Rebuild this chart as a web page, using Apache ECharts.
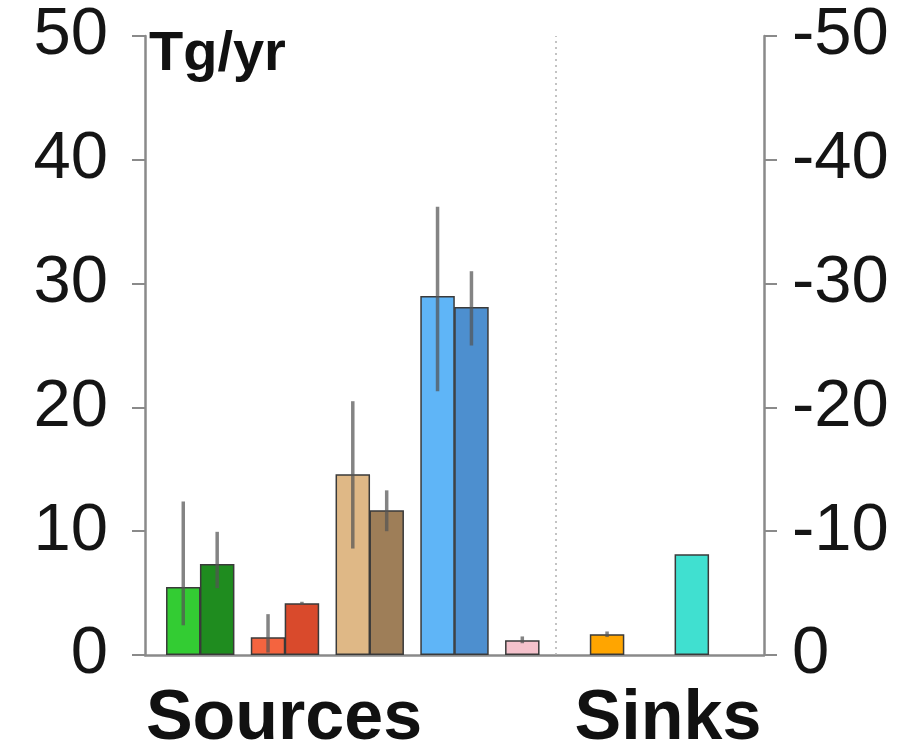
<!DOCTYPE html>
<html>
<head>
<meta charset="utf-8">
<script src="https://cdn.jsdelivr.net/npm/echarts@6/dist/echarts.min.js"></script>
<style>
html,body{margin:0;padding:0;background:#fff;}
#chart{width:912px;height:752px;}
</style>
</head>
<body>
<div id="chart"></div>
<script>
// Category slots (spacers keep the gaps between bar groups)
const categories = ['Src1a','_g1','Src1b','_g2','_g3','Src2a','_g4','Src2b','_g5','_g6',
  'Src3a','_g7','Src3b','_g8','_g9','Src4a','_g10','Src4b','_g11','_g12',
  'Src5','_g13','Divider','_g14','_g15','Sink1','_g16','_g17','_g18','_g19','Sink2'];
// Bar values (Tg/yr), aligned with categories
const barValues = [5.5,null,7.35,null,null,1.43,null,4.18,null,null,
  14.6,null,11.7,null,null,29.0,null,28.1,null,null,
  1.2,null,null,null,null,1.67,null,null,null,null,8.13];
// Error ranges per bar: low and high
const errLow  = {Src1a:2.4, Src1b:5.4, Src2a:0.2, Src2b:4.05, Src3a:8.6, Src3b:10.0, Src4a:21.3, Src4b:25.0, Src5:0.95, Sink1:1.45};
const errHigh = {Src1a:12.4, Src1b:9.95, Src2a:3.3, Src2b:4.3, Src3a:20.5, Src3b:13.3, Src4a:36.2, Src4b:31.0, Src5:1.5, Sink1:1.9};
const leftTicks = [0,10,20,30,40,50];
const rightTickLabels = ['0','-10','-20','-30','-40','-50'];
const groupLabels = ['Sources','Sinks'];
const unitLabel = 'Tg/yr';

const barColors = {Src1a:'#33cc33',Src1b:'#1f8c1f',Src2a:'#f4643f',Src2b:'#d94a2c',
  Src3a:'#dfb886',Src3b:'#9e7e58',Src4a:'#5fb5f7',Src4b:'#4d8fcf',Src5:'#f5c2cc',
  Sink1:'#ffa500',Sink2:'#40e0d0'};

const barData = barValues.map((v,i)=> v==null ? null : {value:v, itemStyle:{color:barColors[categories[i]]}});
const errData = categories.filter(c=>errLow[c]!=null).map(c=>[c, errLow[c], errHigh[c]]);

const axisGray = '#8a8a8a';
const font = "'Liberation Sans', Arial, sans-serif";
const chart = echarts.init(document.getElementById('chart'));
chart.setOption({
  animation:false,
  backgroundColor:'#fff',
  grid:[
    {left:145,right:148,top:36,bottom:97},
    {left:174.8,right:211.7,top:36,bottom:97}
  ],
  xAxis:[
    {gridIndex:0,type:'value',min:0,max:1,
     axisLine:{show:true,onZero:false,lineStyle:{color:axisGray,width:2.5}},
     axisTick:{show:false},axisLabel:{show:false},splitLine:{show:false}},
    {gridIndex:1,type:'category',data:categories,boundaryGap:true,show:false}
  ],
  yAxis:[
    {gridIndex:0,type:'value',min:0,max:50,interval:10,position:'left',
     axisLine:{show:true,onZero:false,lineStyle:{color:axisGray,width:2.5}},
     axisTick:{show:true,length:13,lineStyle:{color:axisGray,width:2}},
     axisLabel:{fontSize:67,color:'#151515',margin:37,fontFamily:font,
       formatter:(v)=>String(leftTicks[leftTicks.indexOf(v)])},
     splitLine:{show:false}},
    {gridIndex:0,type:'value',min:0,max:50,interval:10,position:'right',
     axisLine:{show:true,onZero:false,lineStyle:{color:axisGray,width:2.5}},
     axisTick:{show:true,length:13,lineStyle:{color:axisGray,width:2}},
     axisLabel:{fontSize:67,color:'#151515',margin:28,fontFamily:font,
       formatter:(v)=>rightTickLabels[leftTicks.indexOf(v)]},
     splitLine:{show:false}},
    {gridIndex:1,type:'value',min:0,max:50,show:false}
  ],
  series:[
    {type:'bar',xAxisIndex:1,yAxisIndex:2,data:barData,barWidth:34.5,clip:false,
     itemStyle:{borderColor:'#3a3a3a',borderWidth:1.5},
     markLine:{silent:true,symbol:'none',label:{show:false},
       lineStyle:{type:[2,4],color:'#b0b0b0',width:1.5},
       data:[{xAxis:'Divider'}]}},
    {type:'custom',xAxisIndex:1,yAxisIndex:2,data:errData,z:5,clip:false,
     encode:{x:0,y:[1,2]},
     renderItem:(params,api)=>{
       const lo = api.coord([api.value(0), api.value(1)]);
       const hi = api.coord([api.value(0), api.value(2)]);
       return {type:'line',shape:{x1:lo[0],y1:lo[1],x2:hi[0],y2:hi[1]},
         style:{stroke:'rgba(85,85,85,0.72)',lineWidth:3.5}};
     }}
  ],
  graphic:[
    {type:'text',left:149,top:27,style:{text:unitLabel,fontSize:56,fontWeight:'bold',fill:'#111',fontFamily:font}},
    {type:'text',x:284,y:720,style:{text:groupLabels[0],fontSize:70,fontWeight:'bold',fill:'#111',fontFamily:font,textAlign:'center',textVerticalAlign:'middle'}},
    {type:'text',x:668,y:720,style:{text:groupLabels[1],fontSize:70,fontWeight:'bold',fill:'#111',fontFamily:font,textAlign:'center',textVerticalAlign:'middle'}}
  ]
});
</script>
</body>
</html>
